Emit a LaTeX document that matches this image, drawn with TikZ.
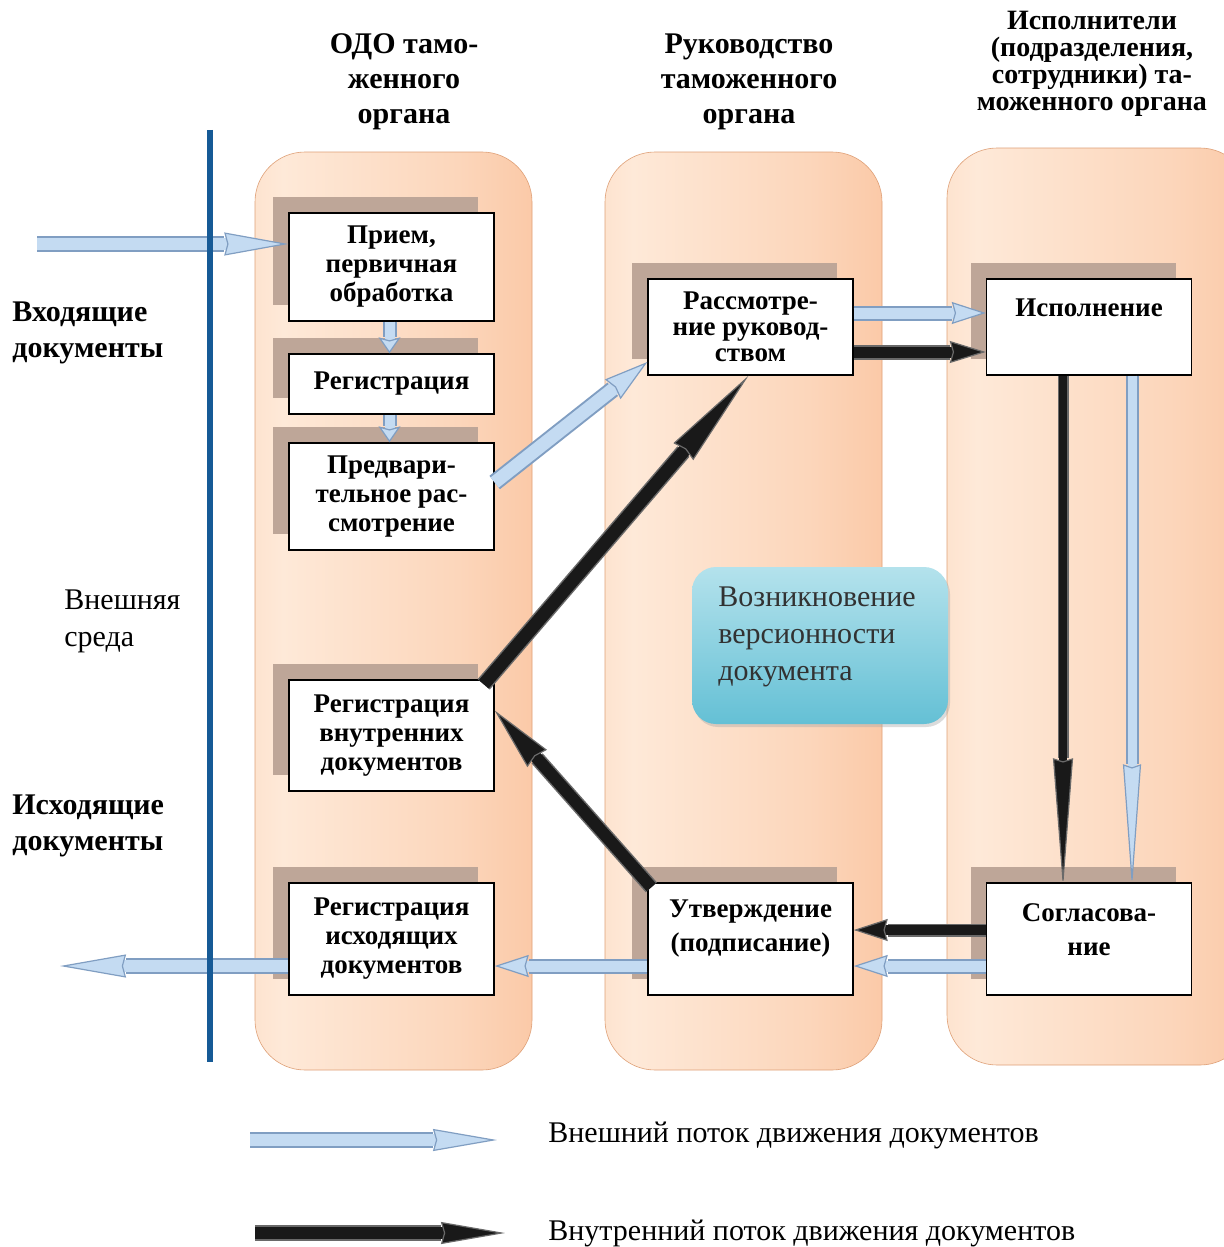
\documentclass[tikz,border=0pt]{standalone}
\usepackage{fontspec}
\setmainfont{Liberation Serif}
\usetikzlibrary{arrows.meta,shadows}
\definecolor{extfill}{RGB}{196,219,242}
\definecolor{extedge}{RGB}{128,158,194}
\definecolor{intfill}{RGB}{25,25,25}
\definecolor{intedge}{RGB}{105,105,105}
\definecolor{shcol}{RGB}{190,166,152}
\definecolor{laneA}{RGB}{250,200,165}
\definecolor{laneL}{RGB}{254,233,216}
\definecolor{laneB}{RGB}{248,178,132}
\definecolor{tealT}{RGB}{180,226,236}
\definecolor{tealL}{RGB}{226,245,249}
\definecolor{tealD}{RGB}{100,192,213}
\definecolor{bline}{RGB}{22,90,150}
\definecolor{tgray}{RGB}{50,50,50}
\pgfdeclarehorizontalshading{laneshade}{100bp}{color(0bp)=(laneA); color(30bp)=(laneL); color(62bp)=(laneL!65!laneB); color(100bp)=(laneB)}
\begin{document}
\begin{tikzpicture}[x=0.5pt,y=-0.5pt,
  lane/.style={shading=laneshade, rounded corners=25pt, draw=laneB!90!black, line width=0.3pt},
  box/.style={draw, line width=0.7pt, fill=white, minimum width=102.5pt, inner sep=1pt,
    align=center, font=\bfseries\fontsize{13.5pt}{14.5pt}\selectfont,
    general shadow={fill=shcol, shadow xshift=-8pt, shadow yshift=8pt}},
  btext/.style={align=center, font=\bfseries\fontsize{13.5pt}{17pt}\selectfont, inner sep=0pt},
  head/.style={align=center, font=\bfseries\fontsize{15pt}{17.5pt}\selectfont},
  side/.style={align=left, anchor=west, inner sep=0pt, font=\bfseries\fontsize{15pt}{18pt}\selectfont},
  plain/.style={align=left, anchor=west, inner sep=0pt, font=\fontsize{15pt}{18.5pt}\selectfont},
  ext/.style n args={4}{draw=extfill, line width=#2,
    preaction={draw=extedge, line width=#1, arrows=-, shorten >=#4},
    -{Stealth[width=#3, length=#4, inset=1.5pt, fill=extfill, color=extedge, line width=0.6pt]}},
  int/.style n args={4}{draw=intfill, line width=#2,
    preaction={draw=intedge, line width=#1, arrows=-, shorten >=#4},
    -{Stealth[width=#3, length=#4, inset=1.5pt, fill=intfill, color=intedge, line width=0.6pt]}}
]
\useasboundingbox (0,0) rectangle (1224,1247);
\fill[white] (0,0) rectangle (1224,1247);

% lanes
\path[lane] (255,152) rectangle (532,1070);
\path[lane] (605,152) rectangle (882,1070);
\path[lane] (947,148) rectangle (1250,1065);

% headers
\node[head] (h1) at (404,82) {ОДО тамо-\\женного\\органа};
\node[head] (h2) at (749,82) {Руководство\\таможенного\\органа};
\node[head, font=\bfseries\fontsize{14pt}{13.5pt}\selectfont] (h3) at (1092,64) {Исполнители\\(подразделения,\\сотрудники) та-\\моженного органа};

% side texts
\node[side] (t1) at (12,333) {Входящие\\документы};
\node[plain] (t2) at (64,621) {Внешняя\\среда};
\node[side] (t3) at (12,826) {Исходящие\\документы};

% boxes
\node[box, minimum height=54pt] (b1) at (391.5,267) {Прием,\\первичная\\обработка};
\node[box, minimum height=30pt] (b2) at (391.5,384) {Регистрация};
\node[box, minimum height=53.5pt] (b3) at (391.5,496.5) {Предвари-\\тельное рас-\\смотрение};
\node[box, minimum height=55.5pt] (b4) at (391.5,735.5) {Регистрация\\внутренних\\документов};
\node[box, minimum height=56pt] (b5) at (391.5,939) {Регистрация\\исходящих\\документов};
\node[box, minimum height=48pt, font=\bfseries\fontsize{13.5pt}{13pt}\selectfont] (b6) at (750.5,327) {Рассмотре-\\ние руковод-\\ством};
\node[box, minimum height=48pt] (b7) at (1089,327) {};
\node[btext] (b7t) at ([yshift=9.5pt]b7.center) {Исполнение};
\node[box, minimum height=56pt] (b8) at (750.5,939) {};
\node[btext] (b8t) at ([yshift=5pt]b8.center) {Утверждение\\(подписание)};
\node[box, minimum height=56pt] (b9) at (1089,939) {};
\node[btext] (b9t) at ([yshift=4.5pt]b9.center) {Согласова-\\ние};

% teal note
\node[draw=none, rounded corners=12pt, top color=tealT, middle color=tealL, bottom color=tealD,
  minimum width=128pt, minimum height=78.5pt,
  drop shadow={fill=black!35, opacity=0.4, shadow xshift=1pt, shadow yshift=-1.5pt}] (note) at (820,645.5) {};
\node[plain, text=tgray] (notet) at (718,637) {Возникновение\\версионности\\документа};

% coordinates
\coordinate (inS) at (37,244);
\coordinate (outE) at (60,966);
\coordinate (l1s) at (250,1140);
\coordinate (l1e) at (497,1140);
\coordinate (l2s) at (255,1233);
\coordinate (l2e) at (505,1233);

% external flow
\draw[ext={8pt}{6pt}{11.5pt}{32pt}] (inS) -- ([yshift=11.5pt]b1.west);
\draw[ext={7pt}{5pt}{11pt}{8pt}] ([xshift=-1pt]b1.south) -- ([xshift=-1pt]b2.north);
\draw[ext={7pt}{5pt}{11pt}{8pt}] ([xshift=-1pt]b2.south) -- ([xshift=-1pt]b3.north);
\draw[ext={8.5pt}{6.5pt}{12.5pt}{22pt}] ([yshift=7pt]b3.east) -- ([yshift=-17.5pt]b6.west);
\draw[ext={7.5pt}{5.5pt}{11pt}{17pt}] ([yshift=7pt]b6.east) -- ([yshift=7pt]b7.west);
\draw[ext={6.5pt}{4.5pt}{9pt}{62pt}] ([xshift=21.5pt]b7.south) -- ([xshift=21.5pt,yshift=-3pt]b9.north);
\draw[ext={7.5pt}{5.5pt}{11pt}{17pt}] ([yshift=-13.5pt]b9.west) -- ([yshift=-13.5pt]b8.east);
\draw[ext={7.5pt}{5.5pt}{11pt}{17pt}] ([yshift=-13.5pt]b8.west) -- ([yshift=-13.5pt]b5.east);
\draw[ext={8pt}{6pt}{11.5pt}{33pt}] ([yshift=-13.5pt]b5.west) -- (outE);

% internal flow
\draw[int={7.5pt}{5.5pt}{11pt}{18pt}] ([yshift=-12.5pt]b6.east) -- ([yshift=-12.5pt]b7.west);
\draw[int={5.5pt}{4pt}{10pt}{65pt}] ([xshift=-13pt]b7.south) -- ([xshift=-13pt,yshift=-3pt]b9.north);
\draw[int={6.5pt}{5pt}{11pt}{17pt}] ([yshift=4.5pt]b9.west) -- ([yshift=4.5pt]b8.east);
\draw[int={7.5pt}{6pt}{13pt}{32pt}] ([xshift=2pt,yshift=-2.5pt]b8.north west) -- ([yshift=12.5pt]b4.east);
\draw[int={8pt}{6.5pt}{13pt}{50pt}] ([xshift=-5.5pt,yshift=-2.5pt]b4.north east) -- ([xshift=-1pt]b6.south);

% boundary line
\draw[bline, line width=2.6pt] (210,130) -- (210,1062);

% legend
\draw[ext={8pt}{6pt}{11pt}{32pt}] (l1s) -- (l1e);
\draw[int={8pt}{6pt}{11pt}{32pt}] (l2s) -- (l2e);
\node[plain] (lt1) at (548,1135) {Внешний поток движения документов};
\node[plain] (lt2) at (548,1233) {Внутренний поток движения документов};
\end{tikzpicture}
\end{document}
